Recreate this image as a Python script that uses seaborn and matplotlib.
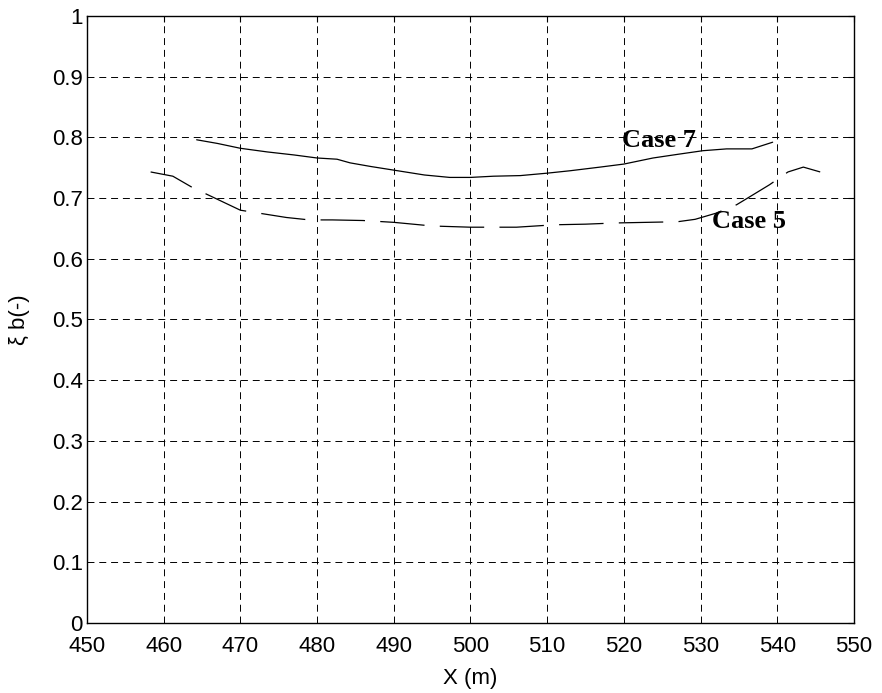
import matplotlib
matplotlib.use('Agg')
import matplotlib.pyplot as plt
import seaborn as sns

# Case 7 (solid)
case7_x = [464.3, 467, 470, 473.5, 477, 480, 482.6, 484.3, 487, 490, 494, 497.3,
           500, 503, 506.5, 510, 513, 516.9, 520, 523.8, 527, 530.3, 533.4, 536.7, 539.4]
case7_y = [0.796, 0.790, 0.782, 0.776, 0.771, 0.766, 0.764, 0.758, 0.752, 0.746, 0.738, 0.734,
           0.734, 0.736, 0.737, 0.741, 0.745, 0.751, 0.756, 0.766, 0.772, 0.778, 0.781, 0.781, 0.792]

# Case 5 (dashed)
case5_x = [458.3, 461.2, 463.8, 466, 470, 473, 476, 479, 482, 486, 490, 495, 500, 506,
           511, 515, 519, 523, 527, 529.3, 532, 534.7, 536.4, 539, 541.4, 543.4, 545.6]
case5_y = [0.743, 0.736, 0.717, 0.704, 0.680, 0.674, 0.668, 0.664, 0.664, 0.663, 0.660, 0.654, 0.652, 0.652,
           0.656, 0.657, 0.659, 0.660, 0.661, 0.665, 0.675, 0.689, 0.702, 0.722, 0.743, 0.751, 0.743]

x_ticks = [450, 460, 470, 480, 490, 500, 510, 520, 530, 540, 550]
y_ticks = [0, 0.1, 0.2, 0.3, 0.4, 0.5, 0.6, 0.7, 0.8, 0.9, 1]
y_tick_labels = ['0', '0.1', '0.2', '0.3', '0.4', '0.5', '0.6', '0.7', '0.8', '0.9', '1']

sns.set_style('white')
plt.rcParams['font.family'] = ['Liberation Sans', 'DejaVu Sans']
plt.rcParams['lines.scale_dashes'] = False
plt.rcParams['text.color'] = 'black'
plt.rcParams['axes.labelcolor'] = 'black'

fig = plt.figure(figsize=(8.82, 6.93), dpi=100)
ax = fig.add_axes([0.0986, 0.101, 0.8696, 0.876])

sns.lineplot(x=case7_x, y=case7_y, ax=ax, color='black', linewidth=0.9,
             sort=False, estimator=None)
sns.lineplot(x=case5_x, y=case5_y, ax=ax, color='black', linewidth=0.9,
             sort=False, estimator=None, linestyle=(0, (32, 11)))

ax.set_xlim(450, 550)
ax.set_ylim(0, 1)
ax.set_xticks(x_ticks)
ax.set_yticks(y_ticks)
ax.set_yticklabels(y_tick_labels)
ax.grid(True, color='black', linestyle=(0, (5, 3.5)), linewidth=0.7)
ax.tick_params(direction='in', length=4, width=0.8, labelsize=16, colors='black',
               top=True, right=True)
ax.tick_params(axis='x', pad=9)
ax.tick_params(axis='y', pad=3)
for s in ax.spines.values():
    s.set_color('black')
    s.set_linewidth(1.0)

ax.set_xlabel('X (m)', fontsize=16, labelpad=8, color='black')
ax.set_ylabel('ξ b(-)', fontsize=16, labelpad=16, color='black')

ax.text(519.8, 0.795, 'Case 7', fontsize=19, fontweight='bold', color='black',
        family=['Liberation Serif', 'DejaVu Serif'], va='center', ha='left')
ax.text(531.5, 0.661, 'Case 5', fontsize=19, fontweight='bold', color='black',
        family=['Liberation Serif', 'DejaVu Serif'], va='center', ha='left')

fig.savefig('out.png', dpi=100)
plt.close(fig)
